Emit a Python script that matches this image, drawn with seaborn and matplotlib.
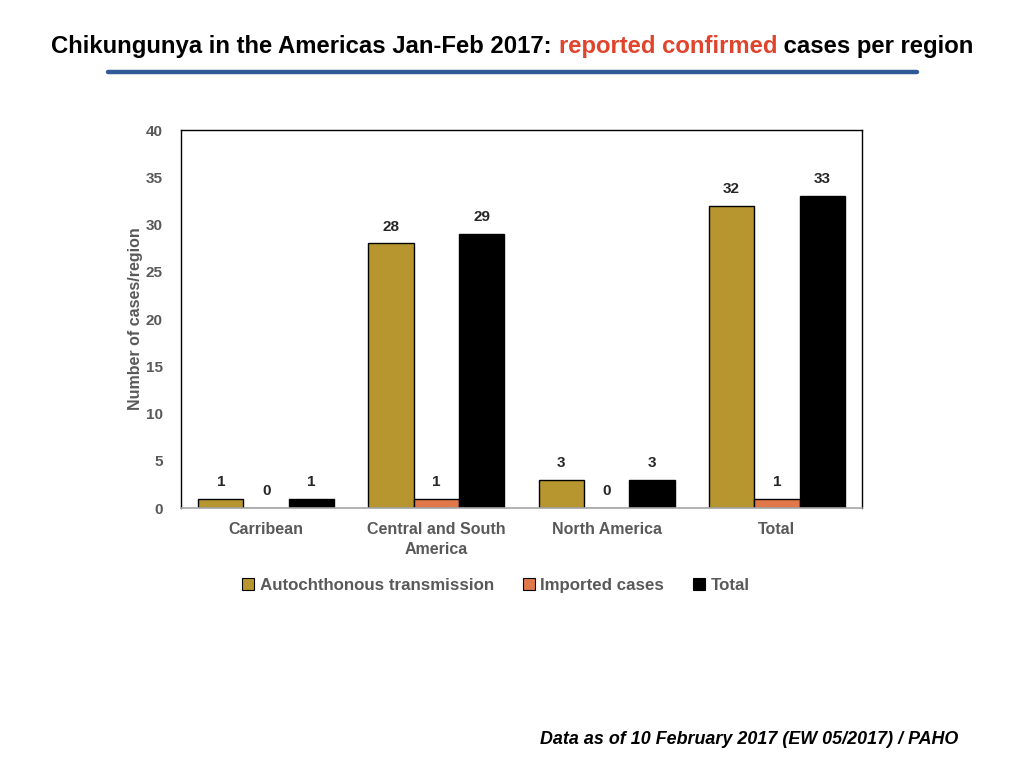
import matplotlib
matplotlib.use("Agg")
import matplotlib.pyplot as plt
import seaborn as sns
import pandas as pd
from matplotlib.lines import Line2D

regions = ["Carribean", "Central and South\nAmerica", "North America", "Total"]
series = ["Autochthonous transmission", "Imported cases", "Total"]
autochthonous = [1, 28, 3, 32]
imported = [0, 1, 0, 1]
total = [1, 29, 3, 33]
colors = ["#B8962F", "#E0784A", "#000000"]

rows = []
for s, vals in zip(series, [autochthonous, imported, total]):
    for r, v in zip(regions, vals):
        rows.append({"Region": r, "Series": s, "Cases": v})
df = pd.DataFrame(rows)

sns.set_theme(style="white")
plt.rcParams['font.family'] = ['Liberation Sans', 'DejaVu Sans']

fig = plt.figure(figsize=(10.24, 7.68), dpi=100)
ax = fig.add_axes([0.1768, 0.3385, 0.665, 0.4922])

sns.barplot(data=df, x="Region", y="Cases", hue="Series", order=regions,
            hue_order=series, palette=colors, saturation=1, width=0.8,
            edgecolor="black", linewidth=1.0, ax=ax, legend=False)

gray = "#595959"
for cont in ax.containers:
    ax.bar_label(cont, padding=7, fontsize=11, fontweight="bold", color="#262626")

ax.set_ylim(0, 40)
ax.set_yticks(range(0, 41, 5))
ax.set_xlabel("")
ax.set_ylabel("Number of cases/region", fontsize=11.5, fontweight="bold", color=gray, labelpad=2)
ax.tick_params(axis="y", labelsize=11, colors=gray, length=0, pad=13)
ax.tick_params(axis="x", labelsize=11.5, colors=gray, length=0, pad=10)
for lbl in ax.get_xticklabels() + ax.get_yticklabels():
    lbl.set_fontweight("bold")
for lbl in ax.get_xticklabels():
    lbl.set_linespacing(1.45)
for sp in ["top", "right", "left"]:
    ax.spines[sp].set_color("black")
    ax.spines[sp].set_linewidth(1.0)
ax.spines["bottom"].set_color("#A6A6A6")
ax.spines["bottom"].set_linewidth(1.2)

handles = [Line2D([0], [0], marker="s", linestyle="none", markersize=8.5,
                  markerfacecolor=c, markeredgecolor="black", markeredgewidth=0.8)
           for c in colors]
leg = fig.legend(handles, series, loc="center", bbox_to_anchor=(0.4815, 0.238), ncol=3,
                 frameon=False, handletextpad=0.0, columnspacing=1.35, handlelength=1.4,
                 prop={"size": 12.2, "weight": "bold"})
for t in leg.get_texts():
    t.set_color(gray)

# Title with two colours
y_t = 0.94
parts = [("Chikungunya in the Americas Jan-Feb 2017: ", "black"),
         ("reported confirmed", "#E0442C"),
         (" cases per region", "black")]
fig.canvas.draw()
renderer = fig.canvas.get_renderer()
texts = []
for s, c in parts:
    t = fig.text(0, y_t, s, color=c, fontsize=17.2, fontweight="bold", va="center", ha="left")
    texts.append(t)
widths = [t.get_window_extent(renderer).width / fig.bbox.width for t in texts]
total_w = sum(widths)
x = 512.5 / 1024 - total_w / 2
for t, w in zip(texts, widths):
    t.set_x(x)
    x += w

fig.add_artist(Line2D([108 / 1024, 917 / 1024], [1 - 72 / 768] * 2, color="#2F5A97",
                      linewidth=3.2, transform=fig.transFigure))

fig.text(958 / 1024, 1 - 740 / 768, "Data as of 10 February 2017 (EW 05/2017) / PAHO",
         fontsize=12.9, fontweight="bold", fontstyle="italic", ha="right", va="center",
         color="black")

fig.savefig("out.png", dpi=100)
